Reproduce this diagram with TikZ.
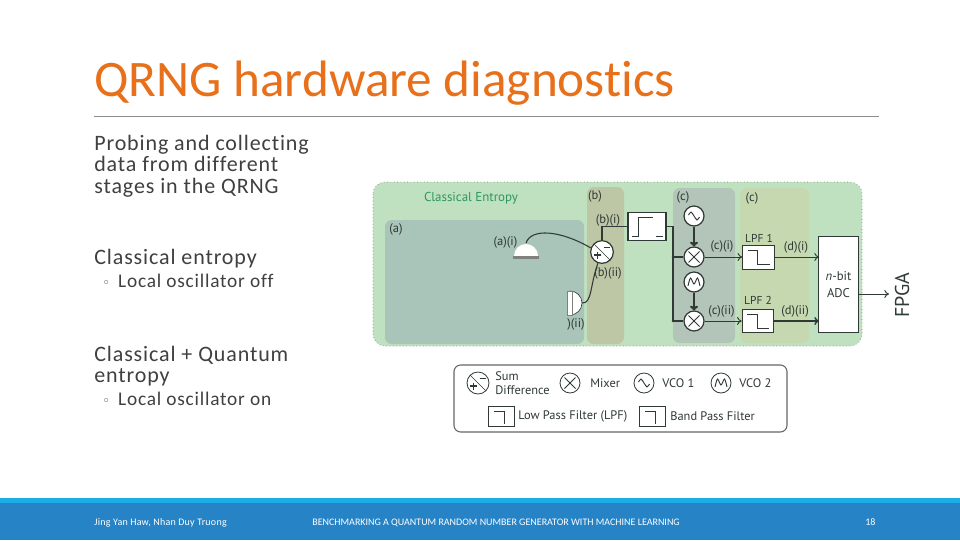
\documentclass[tikz,border=0pt]{standalone}
\usepackage{fontspec}
\setmainfont{Carlito}[Ligatures=NoCommon]
\newfontfamily\figfont{PT Sans}
\newfontfamily\symfont{DejaVu Sans}
\usetikzlibrary{positioning,arrows.meta}
\definecolor{titleorange}{HTML}{E8701A}
\definecolor{bodygrey}{HTML}{404040}
\definecolor{figdark}{HTML}{2F3A36}
\definecolor{outergreen}{HTML}{BFE1BF}
\definecolor{panela}{HTML}{A9C4B8}
\definecolor{panelb}{HTML}{BDC7A5}
\definecolor{panelc}{HTML}{B3C4B8}
\definecolor{paneld}{HTML}{C6D8B0}
\definecolor{footlight}{HTML}{1CADE4}
\definecolor{footdark}{HTML}{2683C6}

\newcommand{\drawsum}[1]{
\draw[figdark, shift={(#1.center)}] (-8,-8) -- (8,8);
\draw[figdark, line width=1.2pt, shift={(#1.center)}] (-8,3) -- (-1,3);
\draw[figdark, line width=1.2pt, shift={(#1.center)}] (-4.5,-0.5) -- (-4.5,6.5);
\draw[figdark, line width=1.2pt, shift={(#1.center)}] (1.5,-4.5) -- (8,-4.5);
}
\newcommand{\drawmixer}[1]{
\draw[figdark, line width=0.7pt, shift={(#1.center)}] (-5.5,-5.5) -- (5.5,5.5);
\draw[figdark, line width=0.7pt, shift={(#1.center)}] (-5.5,5.5) -- (5.5,-5.5);
}
\newcommand{\drawvcoa}[1]{
\draw[figdark, line width=0.7pt, shift={(#1.center)}] plot[smooth] coordinates {(-5.5,-1) (-3,-4) (0,0) (3,4) (5.5,1)};
}
\newcommand{\drawvcob}[1]{
\draw[figdark, line width=0.7pt, shift={(#1.center)}] plot[smooth] coordinates {(-6,4) (-3.5,-4) (0,2) (3.5,-4) (6,4)};
}
\newcommand{\drawlpf}[1]{
\draw[figdark, line width=0.7pt, shift={(#1.center)}] (-11,-7) -- (-1,-7) -- (-1,7) -- (11,7);
}
\newcommand{\drawbpf}[1]{
\draw[figdark, line width=0.7pt, shift={(#1.center)}] (-15,10) -- (-9,10) -- (-9,-9) -- (6,-9);
\draw[figdark, line width=0.7pt, shift={(#1.center)}] (9,10) -- (16,10);
}
\newcommand{\drawkey}[1]{
\draw[figdark, line width=0.4pt, shift={(#1.center)}] (-7,-5) -- (3,-5) -- (3,7);
}

\begin{document}
\begin{tikzpicture}[x=0.75pt, y=-0.75pt, line width=0.5pt, >={To[length=3.5pt,width=6pt]},
  slidetext/.style={inner sep=0pt, anchor=north west, align=left, text=bodygrey, font=\addfontfeatures{LetterSpace=4}\fontsize{16.5}{16.1}\selectfont},
  subtext/.style={inner sep=0pt, anchor=west, text=bodygrey, font=\addfontfeatures{LetterSpace=4}\fontsize{14.5}{15}\selectfont},
  foottext/.style={inner sep=0pt, anchor=west, text=white, font=\fontsize{7.5}{8}\selectfont},
  figlabel/.style={inner sep=0pt, text=figdark, font=\figfont\fontsize{9.4}{10}\selectfont},
  keylabel/.style={inner sep=0pt, anchor=west, align=left, text=figdark, font=\figfont\fontsize{9.3}{10}\selectfont},
  roundel/.style={draw=figdark, circle, fill=white, line width=0.9pt, inner sep=0pt, minimum size=15pt},
  keyroundel/.style={draw=figdark, circle, fill=white, line width=0.6pt, inner sep=0pt, minimum size=15pt},
  filterbox/.style={draw=figdark, rectangle, fill=white, line width=0.9pt, inner sep=0pt, minimum width=23.5pt, minimum height=17.5pt},
  keybox/.style={draw=figdark, rectangle, fill=white, line width=0.6pt, inner sep=0pt, minimum width=19.5pt, minimum height=14.5pt},
  wire/.style={draw=figdark, line width=0.8pt},
  arrowwire/.style={draw=figdark, line width=0.7pt, ->},
  thickwire/.style={draw=figdark, line width=1.7pt, ->}]
\useasboundingbox (0,0) rectangle (960,540);
\fill[white] (0,0) rectangle (960,540);

\node[inner sep=0pt, anchor=west, text=titleorange, font=\fontsize{38.4}{42}\selectfont] (title) at (94,83) {QRNG hardware diagnostics};
\coordinate (rulestart) at (94,116);
\coordinate (ruleend) at (879,116);
\draw[gray!90] (rulestart) -- (ruleend);

\node[slidetext] (probing) at (94,134.5) {Probing and collecting\\data from different\\stages in the QRNG};
\node[slidetext] (classical) at (94,248.5) {Classical entropy};
\node[subtext] (off) at (102,281) {{\symfont\fontsize{10}{12}\selectfont ◦}\hspace{6pt}Local oscillator off};
\node[slidetext] (quantum) at (94,345.5) {Classical + Quantum\\entropy};
\node[subtext] (on) at (102,399) {{\symfont\fontsize{10}{12}\selectfont ◦}\hspace{6pt}Local oscillator on};

\fill[outergreen] (373,182) [rounded corners=9pt] rectangle (862,346);
\draw[gray, dotted, rounded corners=9pt] (373,182) rectangle (862,346);
\fill[panela, rounded corners=5pt] (385,220) rectangle (584,344);
\fill[panelb, rounded corners=5pt] (587,187) rectangle (624,344);
\fill[panelc, rounded corners=5pt] (673,188) rectangle (735,343);
\fill[paneld, rounded corners=5pt] (740,188) rectangle (809,343);

\node[inner sep=0pt, text={rgb,255:red,46;green,150;blue,95}, font=\figfont\fontsize{9.7}{10}\selectfont] (entropy) at (471,198) {Classical Entropy};
\node[figlabel] (labela) at (396,229) {(a)};
\node[figlabel] (labelb) at (595,196) {(b)};
\node[figlabel] (labelc) at (683,197) {(c)};
\node[figlabel] (labeld) at (752,198) {(c)};
\node[figlabel] (labelai) at (505.5,242) {(a)(i)};
\node[figlabel] (labelaii) at (576,324) {)(ii)};
\node[figlabel] (labelbi) at (608,220) {(b)(i)};
\node[figlabel] (labelbii) at (608,273) {(b)(ii)};
\node[figlabel] (labelci) at (722,246) {(c)(i)};
\node[figlabel] (labelcii) at (721.5,311) {(c)(ii)};
\node[figlabel] (labeldi) at (796,247) {(d)(i)};
\node[figlabel] (labeldii) at (795,311) {(d)(ii)};
\node[figlabel, font=\figfont\fontsize{8.6}{10}\selectfont] (lpfa) at (759,238) {LPF 1};
\node[figlabel, font=\figfont\fontsize{8.6}{10}\selectfont] (lpfb) at (758,300) {LPF 2};

\coordinate (deta) at (526,243);
\coordinate (detb) at (582,303);
\fill[white] (514,256) arc (180:360:12) -- cycle;
\fill[gray] (513,256) rectangle (539,258.5);
\fill[white] (570,291) arc (-90:90:12) -- cycle;
\draw[figdark] (570,291) arc (-90:90:12);
\fill[white, draw=gray] (567,291) rectangle (572,315);

\node[roundel, minimum size=17pt] (sum) at (602,252) {};
\node[roundel] (mixa) at (694,257) {};
\node[roundel] (mixb) at (694,321) {};
\node[roundel] (vcoa) at (694,216) {};
\node[roundel] (vcob) at (694,282) {};
\node[filterbox, minimum width=28.5pt, minimum height=21.5pt] (bpf) at (647,226.5) {};
\node[filterbox] (lpfone) at (758.5,257.5) {};
\node[filterbox] (lpftwo) at (758,321) {};
\node[draw=figdark, fill=white, line width=0.9pt, minimum width=29.5pt, minimum height=71.5pt, inner sep=0pt, align=center, text=figdark, font=\figfont\fontsize{9.5}{12.4}\selectfont] (adc) at (838.5,284.5) {\textit{n}-bit\\ADC};
\node[inner sep=0pt, rotate=90, text=figdark, font=\figfont\fontsize{15}{16}\selectfont] (fpga) at (902,295) {FPGA};
\coordinate (splita) at (673,257);
\coordinate (splitb) at (673,321);
\coordinate (adcout) at (858,294);
\coordinate (fpgain) at (889,294);
\coordinate (adcina) at (819,257);
\coordinate (adcinb) at (819,321);

\drawsum{sum}
\drawmixer{mixa}
\drawmixer{mixb}
\drawvcoa{vcoa}
\drawvcob{vcob}
\drawbpf{bpf}
\drawlpf{lpfone}
\drawlpf{lpftwo}

\draw[wire] (deta) .. controls (531,228) and (560,230) .. (sum.160);
\draw[wire] (detb) .. controls (592,304) and (590,285) .. (sum.250);
\draw[wire] (sum.north) |- (bpf.west);
\draw[wire] (bpf.east) -| (splitb);
\draw[wire] (splita) -- (mixa.west);
\draw[wire] (splitb) -- (mixb.west);
\fill[figdark] (splita) circle (1pt);
\fill[figdark] (splitb) circle (1pt);
\draw[thickwire] (vcoa) -- (mixa);
\draw[thickwire] (vcob) -- (mixb);
\draw[arrowwire] (mixa) -- (lpfone.west |- mixa);
\draw[arrowwire] (mixb) -- (lpftwo.west);
\draw[arrowwire] (lpfone.east |- adcina) -- (adcina);
\draw[arrowwire, line width=1.1pt] (lpftwo.east) -- (adcinb);
\draw[arrowwire] (adcout) -- (fpgain);

\draw[gray!80!black, line width=0.8pt, rounded corners=5pt, fill=white] (454,365) rectangle (787,432);
\node[keyroundel, minimum size=16.5pt] (keysum) at (478,383) {};
\node[keylabel] (keysumtext) at (495,383) {Sum\\Difference};
\node[keyroundel] (keymix) at (570,383) {};
\node[keylabel] (keymixtext) at (590,383) {Mixer};
\node[keyroundel] (keyvcoa) at (644,383) {};
\node[keylabel] (keyvcoatext) at (662,383) {VCO 1};
\node[keyroundel] (keyvcob) at (721,383) {};
\node[keylabel] (keyvcobtext) at (739,383) {VCO 2};
\node[keybox] (keylpf) at (501,416.5) {};
\node[keylabel] (keylpftext) at (518,416) {Low Pass Filter (LPF)};
\node[keybox] (keybpf) at (652,416.5) {};
\node[keylabel] (keybpftext) at (670,416) {Band Pass Filter};
\drawsum{keysum}
\drawmixer{keymix}
\drawvcoa{keyvcoa}
\drawvcob{keyvcob}
\drawkey{keylpf}
\drawkey{keybpf}

\fill[footlight] (0,498) rectangle (960,503);
\fill[footdark] (0,503) rectangle (960,540);
\node[foottext, font=\addfontfeatures{LetterSpace=2.5}\fontsize{7.5}{8}\selectfont] (authors) at (94,522.5) {Jing Yan Haw, Nhan Duy Truong};
\node[foottext] (talk) at (312,522.5) {BENCHMARKING A QUANTUM RANDOM NUMBER GENERATOR WITH MACHINE LEARNING};
\node[foottext] (page) at (865,522.5) {18};
\end{tikzpicture}
\end{document}
